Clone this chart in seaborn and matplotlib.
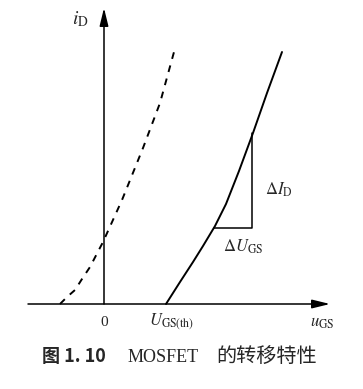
import numpy as np
import pandas as pd
import matplotlib
matplotlib.use("Agg")
import matplotlib.pyplot as plt
import seaborn as sns

# ── Data (arbitrary units) ───────────────────────────────────────────────────
# enhancement MOSFET transfer curve (solid)
enh_u = [62, 69, 76, 89, 99, 111, 122, 135, 149, 163, 178]
enh_i = [0, 11, 22, 42, 58, 78, 100, 133, 171, 211, 252]
# depletion MOSFET transfer curve (dashed)
dep_u = [-44, -37, -29, -22, -14, -1, 18, 39, 56, 70]
dep_i = [0, 7, 14, 25, 37, 62, 104, 156, 201, 252]

u_th = 62            # threshold voltage U_GS(th)
tri_u = [110, 148]   # ΔU_GS span
tri_i = [76, 171]    # ΔI_D span

sns.set_theme(style="white")
plt.rcParams["font.family"] = ["Liberation Serif", "Noto Sans CJK SC", "DejaVu Sans"]
plt.rcParams["mathtext.fontset"] = "stix"

fig = plt.figure(figsize=(3.63, 3.89), dpi=100)
ax = fig.add_axes([0, 0, 1, 1])
ax.set_xlim(-104, 259)
ax.set_ylim(-85, 304)
ax.axis("off")

# ── Curves ───────────────────────────────────────────────────────────────────
enh = pd.DataFrame({"u": enh_u, "i": enh_i})
dep = pd.DataFrame({"u": dep_u, "i": dep_i})
sns.lineplot(data=enh, x="u", y="i", ax=ax, color="black", lw=1.4,
             sort=False, estimator=None)
sns.lineplot(data=dep, x="u", y="i", ax=ax, color="black", lw=1.4,
             sort=False, estimator=None, dashes=False)
ax.lines[-1].set_dashes([3.5, 3.5])

# ── Axes with arrows ─────────────────────────────────────────────────────────
arrow = dict(arrowstyle="-|>,head_length=0.9,head_width=0.22",
             lw=1.1, color="black", shrinkA=0, shrinkB=0)
ax.annotate("", xy=(226, 0), xytext=(-76, 0), arrowprops=arrow)
ax.annotate("", xy=(0, 296), xytext=(0, 0), arrowprops=arrow)

# ── Slope triangle ───────────────────────────────────────────────────────────
ax.plot([tri_u[0], tri_u[1], tri_u[1]], [tri_i[0], tri_i[0], tri_i[1]],
        color="black", lw=1.1)

# ── Labels ───────────────────────────────────────────────────────────────────
fs = 12
ax.text(-24, 285, r"$i_{\rm D}$", fontsize=14, ha="center", va="center")
ax.text(0, -18, "0", fontsize=fs - 1, ha="center", va="center")
ax.text(u_th + 6, -18, r"$U_{\rm GS(th)}$", fontsize=fs, ha="center", va="center")
ax.text(218, -19, r"$u_{\rm GS}$", fontsize=fs, ha="center", va="center")
ax.text(175, 114, r"$\Delta I_{\rm D}$", fontsize=fs, ha="center", va="center")
ax.text(139, 57, r"$\Delta U_{\rm GS}$", fontsize=fs, ha="center", va="center")

# ── Caption ──────────────────────────────────────────────────────────────────
ax.text(-62, -53, "图 1. 10", fontsize=13, fontweight="bold",
        ha="left", va="center",
        family=["Noto Sans CJK SC", "DejaVu Sans"])
ax.text(24, -53, "MOSFET", fontsize=13, ha="left", va="center",
        family=["Liberation Serif"])
ax.text(112, -53, "的转移特性", fontsize=14.5, ha="left", va="center",
        family=["Noto Sans CJK SC", "DejaVu Sans"])

plt.savefig("out.png", dpi=100, facecolor="white")
plt.close()
